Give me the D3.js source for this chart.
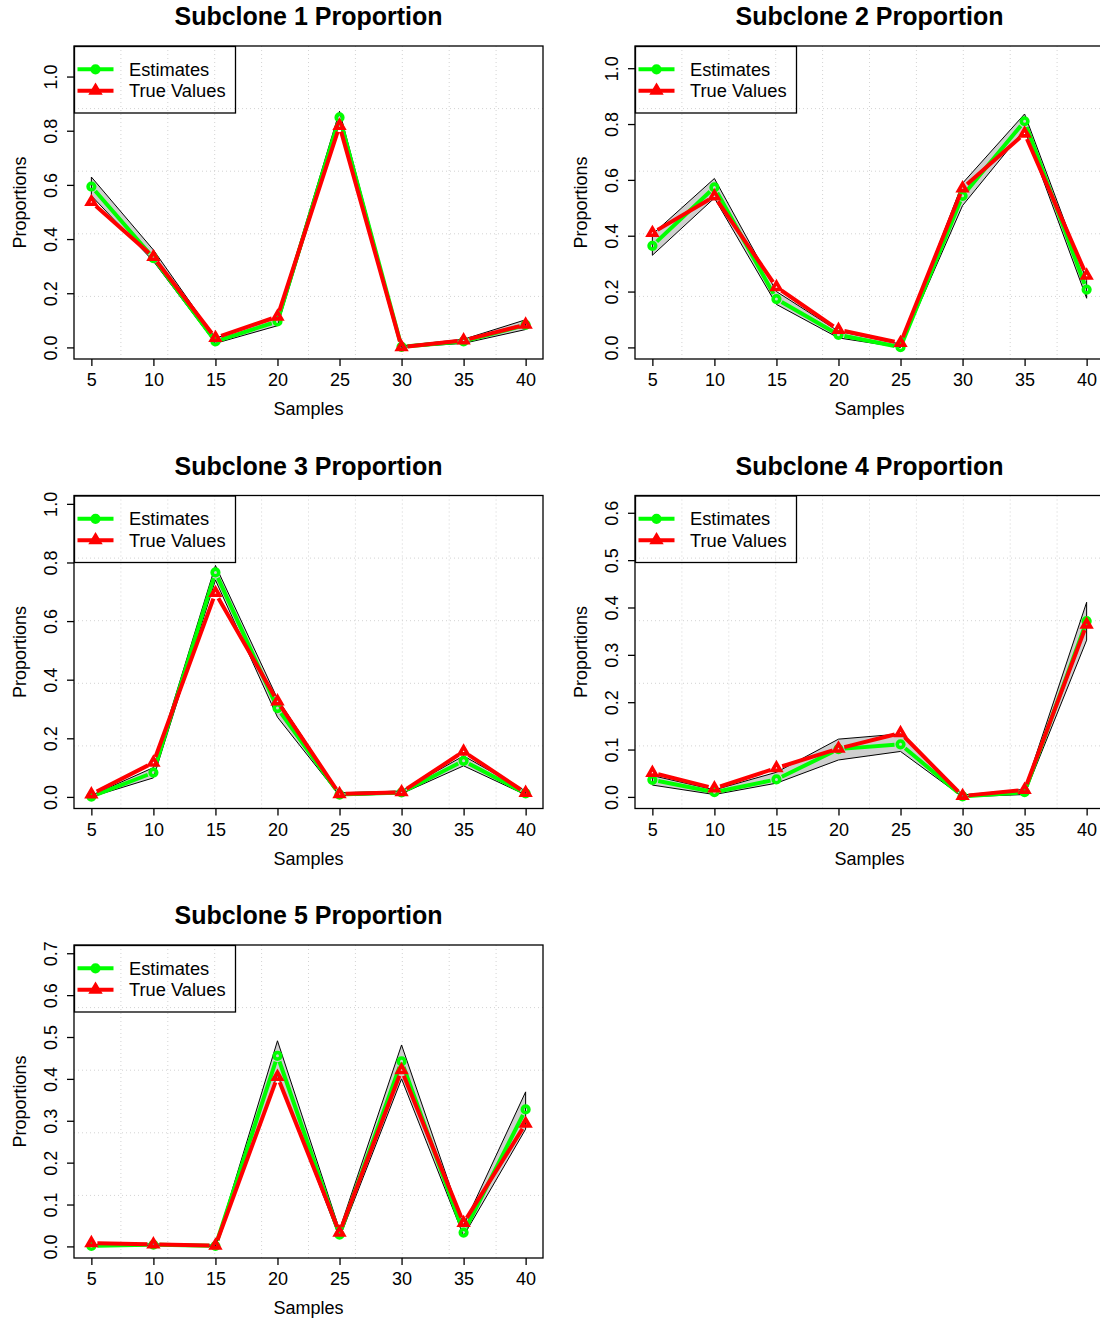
<!DOCTYPE html>
<html>
<head>
<meta charset="utf-8">
<script src="https://cdn.jsdelivr.net/npm/d3@7"></script>
<style>
  html, body { margin: 0; padding: 0; background: #ffffff; }
  svg { display: block; font-family: "Liberation Sans", Arial, Helvetica, sans-serif; }
</style>
</head>
<body>
<div id="chart"></div>
<script>
// Sample indices shared by every subclone panel
const samples = [5, 10, 15, 20, 25, 30, 35, 40];
const xTickLabels = [5, 10, 15, 20, 25, 30, 35, 40];

const panelTitles = [
  "Subclone 1 Proportion", "Subclone 2 Proportion", "Subclone 3 Proportion",
  "Subclone 4 Proportion", "Subclone 5 Proportion"
];

// Subclone 1
const estimates1 = [0.594, 0.330, 0.022, 0.096, 0.849, 0.002, 0.022, 0.083];
const trueValues1 = [0.537, 0.334, 0.035, 0.114, 0.818, 0.001, 0.026, 0.084];
const upper1 = [0.629, 0.360, 0.034, 0.110, 0.872, 0.006, 0.030, 0.102];
const lower1 = [0.560, 0.318, 0.015, 0.080, 0.830, 0.000, 0.015, 0.066];

// Subclone 2
const estimates2 = [0.364, 0.573, 0.173, 0.045, 0.001, 0.543, 0.810, 0.207];
const trueValues2 = [0.410, 0.541, 0.216, 0.063, 0.016, 0.570, 0.766, 0.257];
const upper2 = [0.405, 0.605, 0.200, 0.058, 0.012, 0.588, 0.836, 0.240];
const lower2 = [0.330, 0.535, 0.154, 0.034, 0.000, 0.508, 0.780, 0.176];

// Subclone 3
const estimates3 = [0.001, 0.083, 0.766, 0.303, 0.008, 0.015, 0.123, 0.012];
const trueValues3 = [0.009, 0.117, 0.696, 0.326, 0.010, 0.016, 0.155, 0.014];
const upper3 = [0.005, 0.100, 0.790, 0.335, 0.014, 0.020, 0.140, 0.020];
const lower3 = [0.000, 0.065, 0.740, 0.272, 0.004, 0.011, 0.106, 0.007];

// Subclone 4
const estimates4 = [0.036, 0.010, 0.037, 0.101, 0.111, 0.001, 0.010, 0.371];
const trueValues4 = [0.051, 0.018, 0.061, 0.102, 0.135, 0.002, 0.015, 0.364];
const upper4 = [0.045, 0.015, 0.052, 0.122, 0.133, 0.004, 0.016, 0.411];
const lower4 = [0.025, 0.005, 0.029, 0.078, 0.096, 0.000, 0.005, 0.331];

// Subclone 5
const estimates5 = [0.001, 0.004, 0.001, 0.455, 0.028, 0.442, 0.033, 0.327];
const trueValues5 = [0.008, 0.005, 0.002, 0.405, 0.033, 0.421, 0.056, 0.293];
const upper5 = [0.004, 0.006, 0.003, 0.491, 0.040, 0.481, 0.050, 0.369];
const lower5 = [0.000, 0.002, 0.000, 0.410, 0.020, 0.400, 0.025, 0.280];

// y-axis ticks and upper limits of each panel
const yTicksUnit = [0, 0.2, 0.4, 0.6, 0.8, 1.0];
const yTicks4 = [0, 0.1, 0.2, 0.3, 0.4, 0.5, 0.6];
const yTicks5 = [0, 0.1, 0.2, 0.3, 0.4, 0.5, 0.6, 0.7];
const yUpperLimits = [1.07, 1.038, 0.989, 0.612, 0.692];

const legendLabels = ["Estimates", "True Values"];

const panels = [
  { est: estimates1, tru: trueValues1, up: upper1, lo: lower1, ticks: yTicksUnit },
  { est: estimates2, tru: trueValues2, up: upper2, lo: lower2, ticks: yTicksUnit },
  { est: estimates3, tru: trueValues3, up: upper3, lo: lower3, ticks: yTicksUnit },
  { est: estimates4, tru: trueValues4, up: upper4, lo: lower4, ticks: yTicks4 },
  { est: estimates5, tru: trueValues5, up: upper5, lo: lower5, ticks: yTicks5 }
].map((p, i) => Object.assign(p, { title: panelTitles[i], ymax: yUpperLimits[i] }));

// Page geometry
const W = 1100, H = 1321;
const colLeft = [74, 635];
const rowTop = [46, 495.5, 945];
const boxW = 469, boxH = 313;
const GREEN = "#00ff00", RED = "#ff0000";
const CIRCLE_R = 3.3, TRI_R = 4.7, MARK_W = 3.6;

const svg = d3.select("#chart").append("svg")
  .attr("width", W).attr("height", H).attr("viewBox", `0 0 ${W} ${H}`);
svg.append("rect").attr("width", W).attr("height", H).attr("fill", "#ffffff");

// Segments of a "both" line: joined points with a small gap around each marker
function gappedPath(pts, gap) {
  let d = "";
  for (let i = 0; i < pts.length - 1; i++) {
    const [x1, y1] = pts[i], [x2, y2] = pts[i + 1];
    const dx = x2 - x1, dy = y2 - y1, len = Math.hypot(dx, dy);
    if (len <= 2 * gap) continue;
    const ux = dx / len, uy = dy / len;
    d += `M${x1 + ux * gap},${y1 + uy * gap}L${x2 - ux * gap},${y2 - uy * gap}`;
  }
  return d;
}

function trianglePath(r) {
  return `M0,${-r}L${r * 0.866},${r * 0.5}L${-r * 0.866},${r * 0.5}Z`;
}

panels.forEach((p, i) => {
  const left = colLeft[i % 2], top = rowTop[Math.floor(i / 2)];
  const g = svg.append("g");

  // R-style 4% padding around the data ranges
  const x = d3.scaleLinear().domain([3.6, 41.4]).range([left, left + boxW]);
  const pad = p.ymax * 0.04;
  const y = d3.scaleLinear().domain([-pad, p.ymax + pad]).range([top + boxH, top]);

  // Dotted background grid (10 x 5 cells)
  const grid = g.append("g").attr("stroke", "#d3d3d3").attr("stroke-width", 1)
    .attr("stroke-dasharray", "1,3");
  d3.range(1, 10).forEach(k => {
    const gx = left + boxW * k / 10;
    grid.append("line").attr("x1", gx).attr("x2", gx).attr("y1", top).attr("y2", top + boxH);
  });
  d3.range(1, 5).forEach(k => {
    const gy = top + boxH * k / 5;
    grid.append("line").attr("x1", left).attr("x2", left + boxW).attr("y1", gy).attr("y2", gy);
  });

  // Interval band between lower and upper bounds
  const bandPts = samples.map((s, j) => [x(s), y(p.up[j])])
    .concat(samples.map((s, j) => [x(s), y(p.lo[j])]).reverse());
  g.append("path")
    .attr("d", "M" + bandPts.map(q => q.join(",")).join("L") + "Z")
    .attr("fill", "#cfcfcf").attr("stroke", "#000").attr("stroke-width", 1)
    .attr("stroke-linejoin", "miter");

  // Estimates series
  const estPts = samples.map((s, j) => [x(s), y(p.est[j])]);
  g.append("path").attr("d", gappedPath(estPts, 6))
    .attr("fill", "none").attr("stroke", GREEN).attr("stroke-width", 4);
  g.selectAll(null).data(estPts).enter().append("circle")
    .attr("cx", d => d[0]).attr("cy", d => d[1]).attr("r", CIRCLE_R)
    .attr("fill", "none").attr("stroke", GREEN).attr("stroke-width", MARK_W);

  // True values series
  const truPts = samples.map((s, j) => [x(s), y(p.tru[j])]);
  g.append("path").attr("d", gappedPath(truPts, 6))
    .attr("fill", "none").attr("stroke", RED).attr("stroke-width", 4);
  g.selectAll(null).data(truPts).enter().append("path")
    .attr("transform", d => `translate(${d[0]},${d[1]})`)
    .attr("d", trianglePath(TRI_R))
    .attr("fill", "none").attr("stroke", RED).attr("stroke-width", MARK_W);

  // Frame
  g.append("rect").attr("x", left).attr("y", top).attr("width", boxW).attr("height", boxH)
    .attr("fill", "none").attr("stroke", "#000").attr("stroke-width", 1.3);

  // Bottom axis
  const xAxis = d3.axisBottom(x).tickValues(xTickLabels).tickSize(7).tickPadding(0).tickFormat(d3.format("d"));
  const xa = g.append("g").attr("transform", `translate(0,${top + boxH})`).call(xAxis);
  xa.select(".domain").remove();
  xa.selectAll(".tick line").attr("stroke", "#000").attr("stroke-width", 1.3);
  xa.selectAll(".tick text").attr("font-size", 18).attr("fill", "#000")
    .attr("font-family", null).attr("dy", null).attr("y", 27);

  // Left axis with vertical labels
  const yAxis = d3.axisLeft(y).tickValues(p.ticks).tickSize(7).tickFormat(d3.format(".1f"));
  const ya = g.append("g").attr("transform", `translate(${left},0)`).call(yAxis);
  ya.select(".domain").remove();
  ya.selectAll(".tick line").attr("stroke", "#000").attr("stroke-width", 1.3);
  ya.selectAll(".tick text").attr("font-size", 18).attr("fill", "#000")
    .attr("font-family", null).attr("x", null).attr("dy", null)
    .attr("text-anchor", "middle").attr("transform", "translate(-17,0) rotate(-90)");

  // Titles
  g.append("text").attr("x", left + boxW / 2).attr("y", top - 21)
    .attr("text-anchor", "middle").attr("font-size", 25).attr("font-weight", "bold")
    .text(p.title);
  g.append("text").attr("x", left + boxW / 2).attr("y", top + boxH + 56)
    .attr("text-anchor", "middle").attr("font-size", 18).text("Samples");
  g.append("text")
    .attr("transform", `translate(${left - 48},${top + boxH / 2}) rotate(-90)`)
    .attr("text-anchor", "middle").attr("font-size", 18).text("Proportions");

  // Legend (transparent box)
  const lg = g.append("g").attr("transform", `translate(${left},${top})`);
  lg.append("rect").attr("x", 0.5).attr("y", 0.5).attr("width", 161).attr("height", 66.5)
    .attr("fill", "none").attr("stroke", "#000").attr("stroke-width", 1.3);
  const rowsY = [23.3, 44.7];
  lg.append("line").attr("x1", 3.5).attr("x2", 39.5).attr("y1", rowsY[0]).attr("y2", rowsY[0])
    .attr("stroke", GREEN).attr("stroke-width", 4);
  lg.append("circle").attr("cx", 21.5).attr("cy", rowsY[0]).attr("r", CIRCLE_R)
    .attr("fill", "none").attr("stroke", GREEN).attr("stroke-width", MARK_W);
  lg.append("line").attr("x1", 3.5).attr("x2", 39.5).attr("y1", rowsY[1]).attr("y2", rowsY[1])
    .attr("stroke", RED).attr("stroke-width", 4);
  lg.append("path").attr("transform", `translate(21.5,${rowsY[1]})`).attr("d", trianglePath(TRI_R))
    .attr("fill", RED).attr("stroke", RED).attr("stroke-width", MARK_W);
  legendLabels.forEach((lab, k) => {
    lg.append("text").attr("x", 55).attr("y", rowsY[k] + 6.5).attr("font-size", 18.3).text(lab);
  });
});
</script>
</body>
</html>
